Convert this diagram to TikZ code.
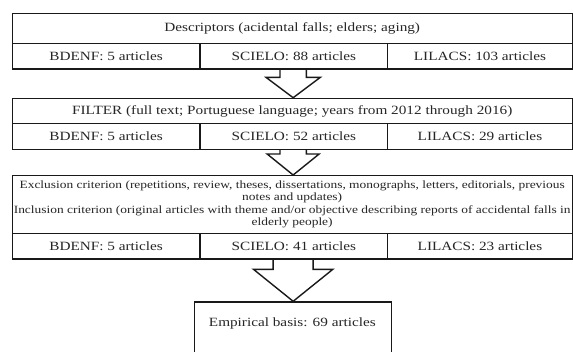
\documentclass[tikz,border=0pt]{standalone}
\usepackage{fontspec}
\setmainfont[FakeStretch=1.21]{Liberation Serif}
\usetikzlibrary{calc}
\begin{document}
\begin{tikzpicture}[x=1pt,y=-1pt,
  cell/.style={draw=black!90, line width=1.4pt, inner sep=0pt, text=black!85,
    anchor=north west, font=\fontsize{12.6pt}{12.4pt}\selectfont},
  arr/.style={draw=black!90, line width=1.4pt, fill=white, line join=miter},
  lbl/.style={text=black!85, inner sep=0pt, font=\fontsize{12.6pt}{12.4pt}\selectfont}]
\useasboundingbox (0,0) rectangle (573,351);
\clip (0,0) rectangle (573,351);
\fill[white] (0,0) rectangle (573,351);
% coordinates for arrow placement
\coordinate (a1) at (293.15,68.3);
\coordinate (a2) at (293.15,149);
\coordinate (a3) at (293.15,258.3);
\coordinate (t1) at (293.15,97.7);
\coordinate (t2) at (293.15,175);
\coordinate (t3) at (293.15,301.3);
% arrows (drawn first so box edges stay on top)
\draw[arr] ($(a1)+(-13.2,0)$) -- ++(0,9) -- ++(-14,0) -- (t1) -- ($(a1)+(27.2,9)$) -- ++(-14,0) -- ++(0,-9);
\draw[arr] ($(a2)+(-13.2,0)$) -- ++(0,5) -- ++(-12.8,0) -- (t2) -- ($(a2)+(26,5)$) -- ++(-12.8,0) -- ++(0,-5);
\draw[arr] ($(a3)+(-20,0)$) -- ++(0,11) -- ++(-19.7,0) -- (t3) -- ($(a3)+(39.7,11)$) -- ++(-19.7,0) -- ++(0,-11);
% block 1
\node[cell, minimum width=560pt, minimum height=30pt] (d) at (11.5,12.7) {Descriptors (acidental falls; elders; aging)};
\node[cell, minimum width=187.8pt, minimum height=25.6pt] (d1) at (11.5,42.7) {BDENF: 5 articles};
\node[cell, minimum width=187.7pt, minimum height=25.6pt] (d2) at (199.3,42.7) {SCIELO: 88 articles};
\node[cell, minimum width=184.5pt, minimum height=25.6pt] (d3) at (387,42.7) {LILACS: 103 articles};
% block 2
\node[cell, minimum width=560pt, minimum height=25.3pt] (f) at (11.5,97.7) {FILTER (full text; Portuguese language; years from 2012 through 2016)};
\node[cell, minimum width=187.8pt, minimum height=26pt] (f1) at (11.5,123) {BDENF: 5 articles};
\node[cell, minimum width=187.7pt, minimum height=26pt] (f2) at (199.3,123) {SCIELO: 52 articles};
\node[cell, minimum width=184.5pt, minimum height=26pt] (f3) at (387,123) {LILACS: 29 articles};
% block 3
\node[cell, minimum width=560pt, minimum height=57.5pt, align=center,
      font=\fontsize{11.1pt}{12.4pt}\selectfont] (e) at (11.5,175)
  {Exclusion criterion (repetitions, review, theses, dissertations, monographs, letters, editorials, previous\\
   notes and updates)\\
   Inclusion criterion (original articles with theme and/or objective describing reports of accidental falls in\\
   elderly people)};
\node[cell, minimum width=187.8pt, minimum height=25.8pt] (e1) at (11.5,232.5) {BDENF: 5 articles};
\node[cell, minimum width=187.7pt, minimum height=25.8pt] (e2) at (199.3,232.5) {SCIELO: 41 articles};
\node[cell, minimum width=184.5pt, minimum height=25.8pt] (e3) at (387,232.5) {LILACS: 23 articles};
% empirical basis
\node[cell, minimum width=196.7pt, minimum height=70pt] (emp) at (194,301.3) {};
\node[lbl] (empt) at (292.35,323) {Empirical basis: 69 articles};
\end{tikzpicture}
\end{document}
